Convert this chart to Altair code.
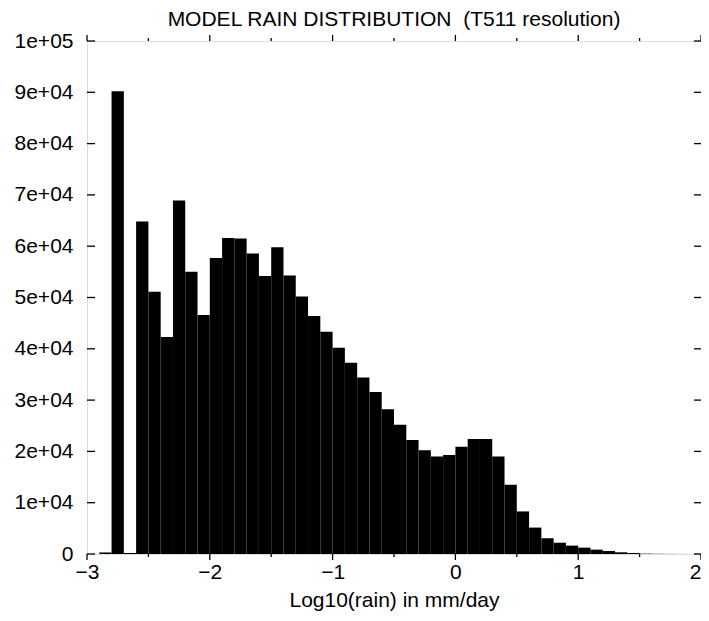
import altair as alt
import pandas as pd

# Histogram bins (left edges, width 0.1) of log10(rain) in mm/day
bin_start = [-3.0, -2.9, -2.8, -2.7, -2.6, -2.5, -2.4, -2.3, -2.2, -2.1,
             -2.0, -1.9, -1.8, -1.7, -1.6, -1.5, -1.4, -1.3, -1.2, -1.1,
             -1.0, -0.9, -0.8, -0.7, -0.6, -0.5, -0.4, -0.3, -0.2, -0.1,
             0.0, 0.1, 0.2, 0.3, 0.4, 0.5, 0.6, 0.7, 0.8, 0.9,
             1.0, 1.1, 1.2, 1.3, 1.4, 1.5, 1.6, 1.7, 1.8, 1.9]
counts = [0, 300, 90200, 200, 64800, 51100, 42300, 68900, 55000, 46600,
          57700, 61600, 61500, 58600, 54200, 59800, 54300, 50200, 46400, 43300,
          40200, 37300, 34400, 31600, 28200, 25200, 22200, 20200, 19000, 19300,
          20900, 22400, 22400, 19000, 13500, 8300, 5150, 3070, 2200, 1630,
          1240, 850, 590, 330, 200, 70, 40, 20, 10, 10]
bin_width = 0.1

x_major = [-3, -2, -1, 0, 1, 2]
x_minor = [-2.5, -1.5, -0.5, 0.5, 1.5]
y_ticks = [0, 10000, 20000, 30000, 40000, 50000, 60000, 70000, 80000, 90000, 100000]

W, H = 614, 513
FONT = "Liberation Sans"
FS = 21

df = pd.DataFrame({"x": bin_start, "count": counts})
df["x2"] = df["x"] + bin_width

xscale = alt.Scale(domain=[-3, 2], nice=False, zero=False)
yscale = alt.Scale(domain=[0, 100000], nice=False)

bars = alt.Chart(df).mark_rect(color="black").encode(
    x=alt.X("x:Q", scale=xscale,
            axis=alt.Axis(values=x_major, format="d", ticks=False, domain=False, grid=False,
                          labelFlush=False,
                          labelAlign={"condition": {"test": "datum.value == 2", "value": "right"},
                                      "value": "center"},
                          labelFontSize=FS, labelFont=FONT, labelColor="black",
                          labelPadding=7, title="Log10(rain) in mm/day",
                          titleFont=FONT, titleFontSize=FS, titleFontWeight="normal",
                          titleColor="black", titlePadding=7)),
    x2="x2:Q",
    y=alt.Y("count:Q", scale=yscale,
            axis=alt.Axis(values=y_ticks, ticks=False, domain=False, grid=False,
                          labelExpr="datum.value == 0 ? '0' : replace(format(datum.value, '.0e'), 'e+', 'e+0')",
                          labelFontSize=FS, labelFont=FONT, labelColor="black",
                          labelPadding=14, title=None)),
    y2=alt.datum(0),
)

ydf = pd.DataFrame({"count": y_ticks})
left_ticks = alt.Chart(ydf).mark_rule(color="black", strokeWidth=1.3).encode(
    y=alt.Y("count:Q", scale=yscale), x=alt.value(0), x2=alt.value(8))
right_ticks = alt.Chart(ydf).mark_rule(color="black", strokeWidth=1.3).encode(
    y=alt.Y("count:Q", scale=yscale), x=alt.value(W - 7), x2=alt.value(W))

majdf = pd.DataFrame({"x": x_major})
mindf = pd.DataFrame({"x": x_minor})
top_major = alt.Chart(majdf).mark_rule(color="black", strokeWidth=1.3).encode(
    x=alt.X("x:Q", scale=xscale), y=alt.value(0), y2=alt.value(-6))
top_minor = alt.Chart(mindf).mark_rule(color="black", strokeWidth=1.3).encode(
    x=alt.X("x:Q", scale=xscale), y=alt.value(0), y2=alt.value(-3))
bot_major = alt.Chart(majdf).mark_rule(color="black", strokeWidth=1.3).encode(
    x=alt.X("x:Q", scale=xscale), y=alt.value(H), y2=alt.value(H + 6))
bot_minor = alt.Chart(mindf).mark_rule(color="black", strokeWidth=1.3).encode(
    x=alt.X("x:Q", scale=xscale), y=alt.value(H), y2=alt.value(H + 3))

chart = alt.layer(bars, left_ticks, right_ticks, top_major, top_minor, bot_major, bot_minor).properties(
    width=W, height=H,
    title=alt.TitleParams("MODEL RAIN DISTRIBUTION\u00a0 (T511 resolution)", font=FONT,
                          fontSize=FS, fontWeight="normal", color="black",
                          anchor="middle", baseline="bottom", offset=8, dy=29),
    autosize=alt.AutoSizeParams(type="none"),
    padding={"left": 79, "top": 33, "right": 0, "bottom": 62},
).configure_view(stroke="black", strokeWidth=1.6).configure(background="white")

chart.save("out.html", embed_options={"renderer": "svg", "actions": False})
